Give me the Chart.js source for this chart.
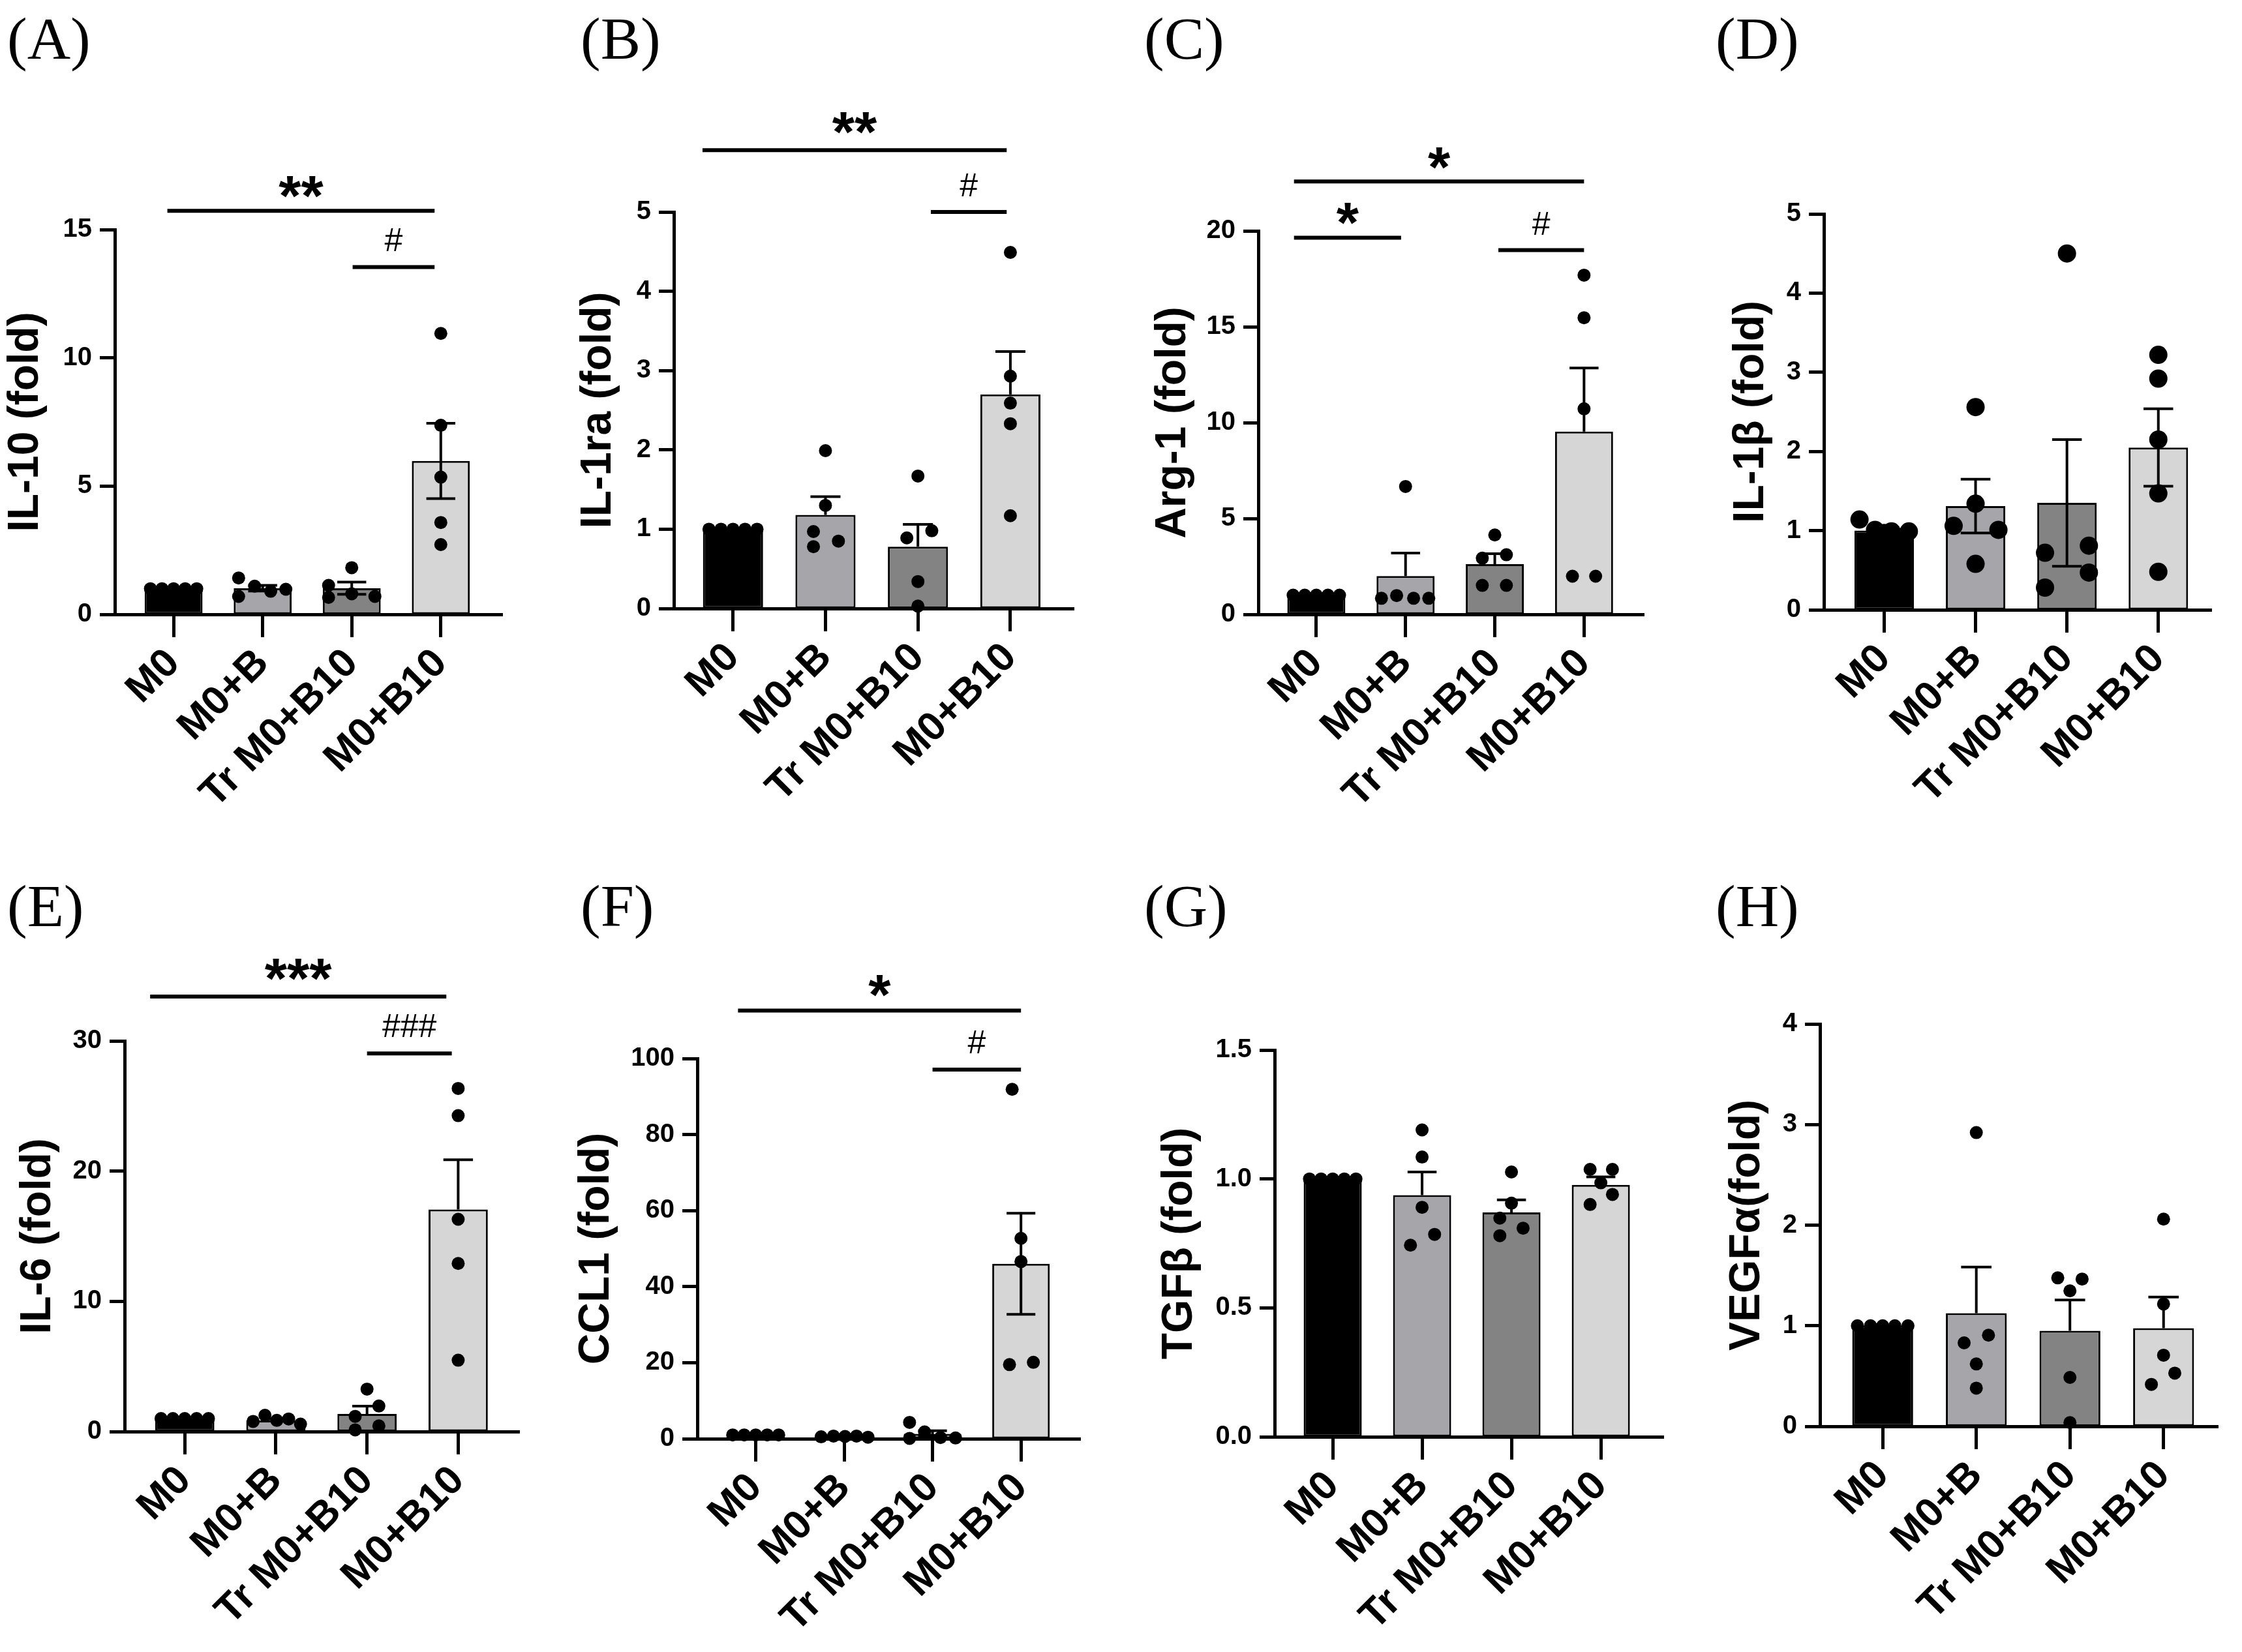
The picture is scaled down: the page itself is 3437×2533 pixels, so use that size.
<!DOCTYPE html>
<html><head><meta charset="utf-8">
<script src="https://cdn.jsdelivr.net/npm/chart.js@4.4.1/dist/chart.umd.min.js"></script>
<style>
html,body{margin:0;padding:0;background:#fff;}
body{width:3437px;height:2533px;position:relative;overflow:hidden;}
canvas{position:absolute;}
.plabel{position:absolute;font-family:'Liberation Serif','Times New Roman',serif;font-size:92px;line-height:92px;color:#000;}
</style></head><body>
<div class="plabel" style="left:11px;top:13px">(A)</div>
<div class="plabel" style="left:890px;top:13px">(B)</div>
<div class="plabel" style="left:1754px;top:13px">(C)</div>
<div class="plabel" style="left:2630px;top:13px">(D)</div>
<div class="plabel" style="left:11px;top:1343px">(E)</div>
<div class="plabel" style="left:890px;top:1343px">(F)</div>
<div class="plabel" style="left:1754px;top:1343px">(G)</div>
<div class="plabel" style="left:2630px;top:1343px">(H)</div>
<script>
// ---------- data ----------
const categories = ['M0', 'M0+B', 'Tr M0+B10', 'M0+B10'];
const barColors = ['#000000', '#a5a5aa', '#838383', '#d6d6d6'];

// (A) IL-10
const il10Title = 'IL-10 (fold)';
const il10Mean = [1.00, 1.02, 1.02, 5.98];
const il10Sem = [0.00, 0.11, 0.24, 1.47];
const il10Pts = [[1,1,1,1,1],[1.42,1.10,0.90,0.98,0.70],[1.82,1.13,0.80,0.66,0.70],[10.95,7.37,5.35,3.58,2.72]];
const il10Spread = [[-0.26,-0.13,0,0.13,0.26],[-0.27,-0.09,0.09,0.26,-0.27],[0,-0.26,0,-0.26,0.26],[0,0,0,0,0]];
const il10Ticks = [0,5,10,15];
const il10Sig = [{label:'**',from:-0.07,to:2.93,y:15.73,textY:16.66},{label:'#',from:2.01,to:2.93,y:13.54,textY:14.6}];

// (B) IL-1ra
const il1raTitle = 'IL-1ra (fold)';
const il1raMean = [1.00, 1.18, 0.78, 2.70];
const il1raSem = [0.00, 0.23, 0.28, 0.54];
const il1raPts = [[1,1,1,1,1],[1.99,1.30,0.97,0.85,0.78],[1.67,0.98,0.89,0.34,0.03],[4.49,2.93,2.59,2.33,1.17]];
const il1raSpread = [[-0.26,-0.13,0,0.13,0.26],[0,0,-0.13,0.14,-0.13],[0,0.15,-0.12,0,0],[0,0,0,0,0]];
const il1raTicks = [0,1,2,3,4,5];
const il1raSig = [{label:'**',from:-0.33,to:2.96,y:5.78,textY:6.12},{label:'#',from:2.14,to:2.96,y:5.0,textY:5.34}];

// (C) Arg-1
const arg1Title = 'Arg-1 (fold)';
const arg1Mean = [1.00, 2.00, 2.62, 9.53];
const arg1Sem = [0.00, 1.20, 0.54, 3.32];
const arg1Pts = [[1,1,1,1,1],[6.67,0.84,0.98,0.84,0.84],[4.14,2.93,3.11,1.51,1.51],[17.69,15.47,10.72,1.99,1.99]];
const arg1Spread = [[-0.26,-0.13,0,0.13,0.26],[0,-0.27,-0.1,0.09,0.26],[0,-0.14,0.13,-0.14,0.13],[0,0,0,-0.13,0.13]];
const arg1Ticks = [0,5,10,15,20];
const arg1Sig = [{label:'*',from:-0.25,to:3.0,y:22.58,textY:23.8},{label:'*',from:-0.25,to:0.95,y:19.64,textY:20.9},{label:'#',from:2.04,to:3.0,y:19.0,textY:20.4}];

// (D) IL-1beta
const il1bTitle = 'IL-1\u03B2 (fold)';
const il1bMean = [1.00, 1.31, 1.35, 2.05];
const il1bSem = [0.04, 0.34, 0.80, 0.49];
const il1bPts = [[1.14,1.01,0.99,0.99,0.97],[2.56,1.34,1.06,1.01,0.58],[4.5,0.72,0.81,0.47,0.28],[3.22,2.92,2.15,1.47,0.48]];
const il1bSpread = [[-0.27,-0.1,0.08,0.27,0],[0,0,-0.24,0.25,0],[0,-0.24,0.24,0.24,-0.24],[0,0,0,0,0]];
const il1bTicks = [0,1,2,3,4,5];
const il1bSig = [];

// (E) IL-6
const il6Title = 'IL-6 (fold)';
const il6Mean = [1.00, 0.85, 1.35, 17.05];
const il6Sem = [0.00, 0.12, 0.60, 3.82];
const il6Pts = [[1,1,1,1,1],[0.78,1.25,0.86,0.97,0.57],[3.26,1.96,1.17,0.44,0.13],[26.35,24.26,16.3,12.91,5.48]];
const il6Spread = [[-0.26,-0.13,0,0.13,0.26],[-0.25,-0.12,0.01,0.14,0.27],[0,0.13,-0.13,0.13,-0.13],[0,0,0,0,0]];
const il6Ticks = [0,10,20,30];
const il6Sig = [{label:'***',from:-0.38,to:2.87,y:33.4,textY:35.5},{label:'###',from:2.0,to:2.93,y:29.04,textY:31.2}];

// (F) CCL1
const ccl1Title = 'CCL1 (fold)';
const ccl1Mean = [1.00, 0.60, 1.30, 46.0];
const ccl1Sem = [0.00, 0.10, 0.80, 13.3];
const ccl1Pts = [[1,1,1,1,1],[0.5,0.7,0.6,0.7,0.4],[4.3,1.8,0.1,0.3,0.2],[91.9,52.7,46.6,19.5,20.1]];
const ccl1Spread = [[-0.26,-0.13,0,0.13,0.26],[-0.26,-0.12,0.01,0.14,0.27],[-0.26,-0.09,-0.26,0.09,0.26],[-0.1,0,0,-0.13,0.14]];
const ccl1Ticks = [0,20,40,60,80,100];
const ccl1Sig = [{label:'*',from:-0.2,to:3.0,y:112.6,textY:119.1},{label:'#',from:2.0,to:3.0,y:97.1,textY:104.3}];

// (G) TGF-beta
const tgfbTitle = 'TGF\u03B2 (fold)';
const tgfbMean = [1.00, 0.937, 0.870, 0.977];
const tgfbSem = [0.00, 0.090, 0.049, 0.031];
const tgfbPts = [[1,1,1,1,1],[1.19,1.085,0.89,0.785,0.743],[1.027,0.906,0.848,0.809,0.78],[1.037,1.037,0.985,0.94,0.901]];
const tgfbSpread = [[-0.26,-0.13,0,0.13,0.26],[0,0,0,0.14,-0.13],[0,0,-0.13,0.13,-0.13],[-0.12,0.13,0,0.13,-0.12]];
const tgfbTicks = [0,0.5,1.0,1.5];
const tgfbSig = [];

// (H) VEGF-alpha
const vegfTitle = 'VEGF\u03B1(fold)';
const vegfMean = [1.00, 1.124, 0.95, 0.975];
const vegfSem = [0.00, 0.46, 0.306, 0.31];
const vegfPts = [[1,1,1,1,1],[2.92,0.906,0.83,0.62,0.38],[1.476,1.464,1.347,0.486,0.037],[2.06,1.216,0.707,0.529,0.417]];
const vegfSpread = [[-0.27,-0.13,0,0.13,0.27],[0,0.13,-0.13,0,0],[-0.13,0.13,0,0,0],[0,0,0,0.12,-0.13]];
const vegfTicks = [0,1,2,3,4];
const vegfSig = [];

// ---------- layout (page pixels) ----------
const panels = [
  {title:il10Title, mean:il10Mean, sem:il10Sem, pts:il10Pts, spread:il10Spread, ticks:il10Ticks, sig:il10Sig,
   row:0, titleX:40, axisX:176, right:770, top:352, bottom:942, xmin:-0.66, xmax:3.69, r:10, both:true, dec:0},
  {title:il1raTitle, mean:il1raMean, sem:il1raSem, pts:il1raPts, spread:il1raSpread, ticks:il1raTicks, sig:il1raSig,
   row:0, titleX:918, axisX:1033, right:1646, top:325, bottom:933, xmin:-0.64, xmax:3.685, r:10, both:false, dec:0},
  {title:arg1Title, mean:arg1Mean, sem:arg1Sem, pts:arg1Pts, spread:arg1Spread, ticks:arg1Ticks, sig:arg1Sig,
   row:0, titleX:1799, axisX:1929, right:2520, top:354, bottom:942, xmin:-0.65, xmax:3.67, r:10, both:false, dec:0},
  {title:il1bTitle, mean:il1bMean, sem:il1bSem, pts:il1bPts, spread:il1bSpread, ticks:il1bTicks, sig:il1bSig,
   row:0, titleX:2685, axisX:2796, right:3390, top:328, bottom:935, xmin:-0.66, xmax:3.58, r:14, both:true, dec:0},
  {title:il6Title, mean:il6Mean, sem:il6Sem, pts:il6Pts, spread:il6Spread, ticks:il6Ticks, sig:il6Sig,
   row:1, titleX:59, axisX:191, right:796, top:1596, bottom:2195, xmin:-0.66, xmax:3.67, r:10, both:false, dec:0},
  {title:ccl1Title, mean:ccl1Mean, sem:ccl1Sem, pts:ccl1Pts, spread:ccl1Spread, ticks:ccl1Ticks, sig:ccl1Sig,
   row:1, titleX:915, axisX:1069, right:1656, top:1623, bottom:2206, xmin:-0.66, xmax:3.67, r:10, both:true, dec:0},
  {title:tgfbTitle, mean:tgfbMean, sem:tgfbSem, pts:tgfbPts, spread:tgfbSpread, ticks:tgfbTicks, sig:tgfbSig,
   row:1, titleX:1809, axisX:1954, right:2550, top:1610, bottom:2203, xmin:-0.65, xmax:3.70, r:10, both:false, dec:1},
  {title:vegfTitle, mean:vegfMean, sem:vegfSem, pts:vegfPts, spread:vegfSpread, ticks:vegfTicks, sig:vegfSig,
   row:1, titleX:2679, axisX:2790, right:3400, top:1570, bottom:2187, xmin:-0.67, xmax:3.58, r:10, both:false, dec:0}
];

const FONT = "'Liberation Sans', Arial, sans-serif";
const rows = [{top:120, bottom:1260}, {top:1440, bottom:2533}];

function centeredText(ctx, text, x, y, font) {
  ctx.font = font;
  const m = ctx.measureText(text);
  ctx.textAlign = 'center';
  ctx.textBaseline = 'alphabetic';
  ctx.fillText(text, x, y + (m.actualBoundingBoxAscent - m.actualBoundingBoxDescent) / 2);
}

function makePlugin(p) {
  return {
    id: 'panelExtras',
    afterDatasetDraw(chart, args) {
      if (args.index !== 0) return;
      const ctx = chart.ctx, ys = chart.scales.y;
      ctx.save();
      ctx.strokeStyle = '#000';
      ctx.lineWidth = 4;
      ctx.lineCap = 'butt';
      args.meta.data.forEach((bar, i) => {
        const s = p.sem[i];
        if (!s) return;
        const m = p.mean[i];
        const half = bar.width * 0.25;
        const yt = ys.getPixelForValue(m + s);
        const ym = ys.getPixelForValue(m);
        const yb = ys.getPixelForValue(Math.max(m - s, 0));
        ctx.beginPath();
        ctx.moveTo(bar.x, yt); ctx.lineTo(bar.x, p.both ? yb : ym);
        ctx.moveTo(bar.x - half, yt); ctx.lineTo(bar.x + half, yt);
        if (p.both) { ctx.moveTo(bar.x - half, yb); ctx.lineTo(bar.x + half, yb); }
        ctx.stroke();
      });
      ctx.restore();
    },
    afterDraw(chart) {
      const ctx = chart.ctx, xs = chart.scales.x, ys = chart.scales.y;
      ctx.save();
      ctx.strokeStyle = '#000';
      ctx.fillStyle = '#000';
      ctx.lineWidth = 6;
      p.sig.forEach(s => {
        const y = ys.getPixelForValue(s.y);
        ctx.beginPath();
        ctx.moveTo(xs.getPixelForValue(s.from), y);
        ctx.lineTo(xs.getPixelForValue(s.to), y);
        ctx.stroke();
        const tx = xs.getPixelForValue((s.from + s.to) / 2);
        const ty = ys.getPixelForValue(s.textY);
        const font = s.label.indexOf('*') >= 0 ? 'bold 88px ' + FONT : '50px ' + FONT;
        centeredText(ctx, s.label, tx, ty, font);
      });
      ctx.restore();
    }
  };
}

function buildPanel(p) {
  const row = rows[p.row];
  const titleSize = 66, lh = titleSize * 1.2;
  const left = Math.round(p.titleX - lh / 2);
  const width = Math.min(p.right + 20, 3437) - left;
  const height = row.bottom - row.top;
  const canvas = document.createElement('canvas');
  canvas.width = width; canvas.height = height;
  canvas.style.left = left + 'px'; canvas.style.top = row.top + 'px';
  canvas.style.width = width + 'px'; canvas.style.height = height + 'px';
  document.body.appendChild(canvas);
  const yWidth = p.axisX - left;
  const xHeight = row.bottom - p.bottom;
  const padRight = left + width - p.right;

  const barData = p.mean.map((m, i) => ({x: i, y: m}));
  const dotData = [];
  p.pts.forEach((grp, i) => grp.forEach((v, j) => dotData.push({x: i + p.spread[i][j], y: v})));

  new Chart(canvas, {
    type: 'bar',
    data: {
      datasets: [
        {type: 'bar', data: barData, backgroundColor: barColors, borderColor: '#000', borderWidth: 3,
         borderSkipped: false, barPercentage: 0.65, categoryPercentage: 1, grouped: false, order: 2},
        {type: 'scatter', data: dotData, pointRadius: p.r, pointHoverRadius: p.r, backgroundColor: '#000',
         borderWidth: 0, order: 1, clip: false}
      ]
    },
    options: {
      responsive: false, animation: false, devicePixelRatio: 1,
      layout: {autoPadding: false, padding: {top: p.top - row.top, right: padRight, left: 0, bottom: 0}},
      plugins: {legend: {display: false}, tooltip: {enabled: false}},
      scales: {
        x: {
          type: 'linear', min: p.xmin, max: p.xmax, offset: false,
          afterBuildTicks: s => { s.ticks = categories.map((c, i) => ({value: i})); },
          afterFit: s => { s.height = xHeight; },
          ticks: {callback: v => categories[v], color: '#000', font: {family: FONT, size: 62, weight: 'bold'},
                  maxRotation: 45, minRotation: 45, autoSkip: false, padding: 4},
          grid: {display: true, offset: false, drawOnChartArea: false, drawTicks: true, tickLength: 35, tickWidth: 5, tickColor: '#000'},
          border: {display: true, color: '#000', width: 5}
        },
        y: {
          type: 'linear', min: 0, max: p.ticks[p.ticks.length - 1],
          afterBuildTicks: s => { s.ticks = p.ticks.map(v => ({value: v})); },
          afterFit: s => { s.width = yWidth; },
          ticks: {callback: v => Number(v).toFixed(p.dec), color: '#000', font: {family: FONT, size: 40, weight: 'bold'}, padding: 12},
          title: {display: true, text: p.title, color: '#000', padding: 0,
                  font: {family: FONT, size: titleSize, weight: 'bold', lineHeight: 1.2}},
          grid: {display: true, drawOnChartArea: false, drawTicks: true, tickLength: 23, tickWidth: 5, tickColor: '#000'},
          border: {display: true, color: '#000', width: 5}
        }
      }
    },
    plugins: [makePlugin(p)]
  });
}

panels.forEach(buildPanel);
</script>
</body></html>
